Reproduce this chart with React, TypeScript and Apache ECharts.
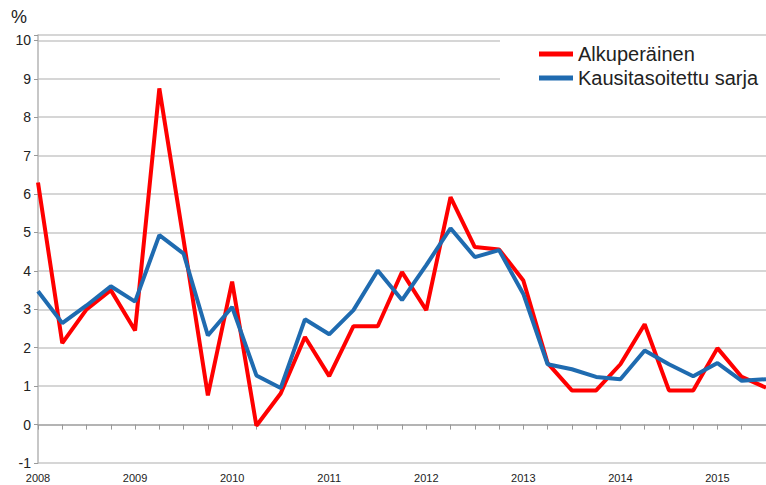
import React, { useEffect, useRef } from "react";
import * as echarts from "echarts";

const years = ["2008", "2009", "2010", "2011", "2012", "2013", "2014", "2015"];
const quarters = ["Q1", "Q2", "Q3", "Q4"];
const categories: string[] = [];
years.forEach((y) => quarters.forEach((q) => categories.push(y + q)));
const cats = categories.slice(0, 31);

const alkuperainen = [
  6.3, 2.12, 3.0, 3.5, 2.45, 8.75, 4.8, 0.76, 3.72, -0.03,
  0.81, 2.28, 1.26, 2.56, 2.56, 3.97, 2.98, 5.92, 4.62, 4.56,
  3.75, 1.6, 0.89, 0.89, 1.57, 2.61, 0.89, 0.89, 1.99, 1.24, 0.96,
];
const kausitasoitettu = [
  3.47, 2.64, 3.1, 3.6, 3.2, 4.93, 4.45, 2.32, 3.06, 1.28,
  0.95, 2.74, 2.35, 2.98, 4.01, 3.24, 4.15, 5.11, 4.36, 4.54,
  3.4, 1.57, 1.44, 1.24, 1.18, 1.93, 1.57, 1.26, 1.6, 1.14, 1.18,
];
const seriesNames = ["Alkuperäinen", "Kausitasoitettu sarja"];

export default function App() {
  const ref = useRef<HTMLDivElement>(null);
  useEffect(() => {
    if (!ref.current) return;
    const chart = echarts.init(ref.current, null, { renderer: "svg" });
    const font = "'Liberation Sans', Arial, sans-serif";
    chart.setOption({
      animation: false,
      backgroundColor: "#ffffff",
      grid: { left: 38, top: 35, width: 730, bottom: 22, containLabel: false },
      graphic: [
        {
          type: "rect",
          z: 1,
          shape: { x: 500, y: 37, width: 266, height: 79 },
          style: { fill: "#ffffff" },
        },
        {
          type: "text",
          left: 11,
          top: 8,
          style: { text: "%", fontSize: 18, fill: "#222", fontFamily: font },
        },
      ],
      legend: {
        orient: "vertical",
        left: 539,
        top: 44,
        padding: 0,
        itemWidth: 34,
        itemHeight: 5,
        itemGap: 4,
        icon: "rect",
        textStyle: { fontSize: 20, color: "#222", fontFamily: font },
        data: seriesNames,
      },
      xAxis: {
        type: "category",
        data: cats,
        boundaryGap: false,
        axisLine: { lineStyle: { color: "#b4b4b4", width: 2 } },
        axisTick: { show: true, interval: 0, length: 5, lineStyle: { color: "#999" } },
        axisLabel: {
          interval: 3,
          fontSize: 11,
          color: "#222",
          fontFamily: font,
          margin: 9,
          formatter: (v: string) => v.slice(0, 4),
        },
        splitLine: { show: false },
      },
      yAxis: {
        type: "value",
        min: -1,
        max: 10.14,
        interval: 1,
        axisLine: { show: true, lineStyle: { color: "#b4b4b4", width: 1.5 } },
        axisTick: { show: true, length: 4, lineStyle: { color: "#999" } },
        axisLabel: {
          fontSize: 14,
          color: "#222",
          fontFamily: font,
          margin: 7,
          formatter: (v: number) => (Math.abs(v - Math.round(v)) < 1e-6 ? String(Math.round(v)) : ""),
        },
        splitLine: { show: true, lineStyle: { color: "#c8c8c8", width: 1.5 } },
      },
      series: [
        {
          name: seriesNames[0],
          type: "line",
          data: alkuperainen,
          symbol: "none",
          color: "#ff0000",
          lineStyle: { color: "#ff0000", width: 4 },
          z: 3,
        },
        {
          name: seriesNames[1],
          type: "line",
          data: kausitasoitettu,
          symbol: "none",
          color: "#1f6bb0",
          lineStyle: { color: "#1f6bb0", width: 4 },
          z: 4,
        },
      ],
    });
    return () => chart.dispose();
  }, []);
  return (
    <div
      ref={ref}
      style={{ position: "absolute", left: 0, top: 0, width: 766, height: 485 }}
    />
  );
}
